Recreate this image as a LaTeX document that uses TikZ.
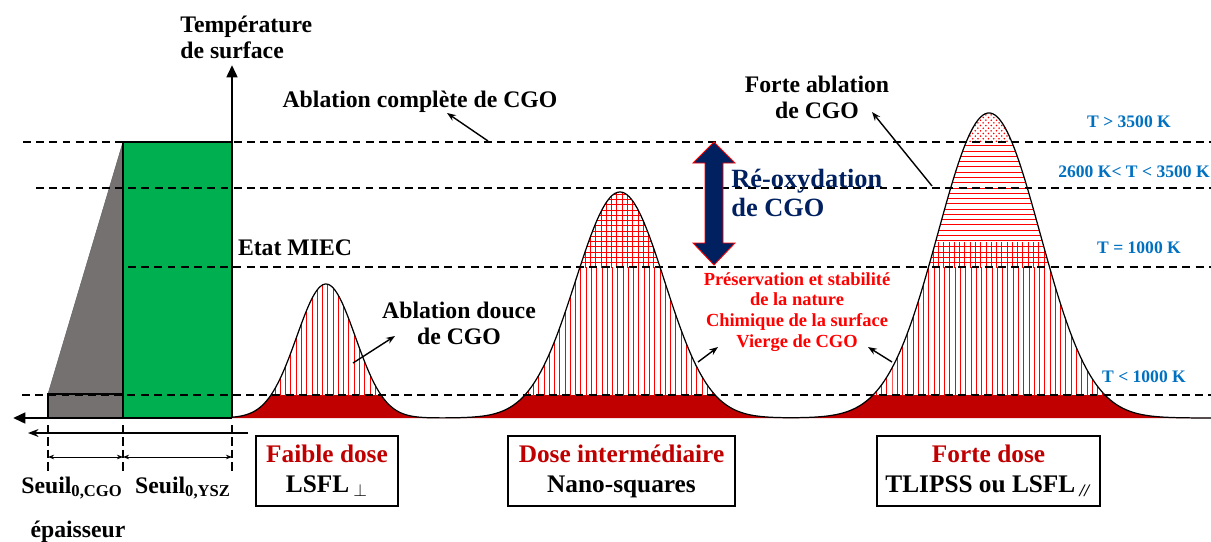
\documentclass[tikz,border=0pt]{standalone}
\usepackage{fontspec}
\setmainfont{Liberation Serif}
\usepackage{xcolor}
\usepackage{tikz}
\usetikzlibrary{arrows.meta,patterns}
\definecolor{cgogray}{RGB}{118,113,113}
\definecolor{yszgreen}{RGB}{0,176,80}
\definecolor{dosered}{RGB}{192,0,0}
\definecolor{reoxcol}{RGB}{0,32,96}
\definecolor{tempcol}{RGB}{0,112,192}
\tikzset{
  axis/.style={-{Triangle[length=7pt,width=6pt]},line width=1.6pt},
  guide/.style={dash pattern=on 4.5pt off 3pt,line width=1.1pt},
  pointer/.style={-{Stealth[length=5pt]},line width=0.8pt},
  dimarrow/.style={{Stealth[length=3.5pt]}-{Stealth[length=3.5pt]},line width=0.5pt},
  lbl/.style={font=\fontsize{13.5}{14.8}\selectfont\bfseries,align=center,inner sep=0pt},
  redlbl/.style={font=\fontsize{10.5}{11.9}\selectfont\bfseries,text=red,align=center,inner sep=0pt},
  templbl/.style={font=\fontsize{10}{12}\selectfont\bfseries,text=tempcol,inner sep=0pt},
  dosebox/.style={draw,line width=0.6pt,minimum height=14mm,align=center,
    font=\fontsize{14.4}{17}\selectfont\bfseries,inner sep=0pt},
  hatch/.style={pattern=#1,pattern color=red}
}

\begin{document}
\begin{tikzpicture}[x=0.2mm,y=-0.2mm,
  declare function={gs(\xa,\ca,\sa)=exp(-min(((\xa-\ca)/\sa)*((\xa-\ca)/\sa)/2,20));
    prof(\xa)=418-134*gs(\xa,326,29.3)-226*gs(\xa,620,44.5)-305*gs(\xa,989,51);}]
  \useasboundingbox (0,0) rectangle (1211,542);

  % CGO layer on YSZ
  \fill[cgogray] (48,418) -- (48,394) -- (123,142) -- (123,418) -- cycle;
  \draw[black!60,line width=0.3pt] (48,394) -- (123,142);
  \draw[line width=0.6pt] (48,394) rectangle (123,418);
  \fill[yszgreen] (123,142) rectangle (232,418);
  \draw[line width=1.2pt] (123,418) -- (123,142) -- (232,142);

  % temperature profiles
  \begin{scope}
    \clip plot[domain=232:1211,samples=400] (\x,{prof(\x)}) -- (1211,418) -- (232,418) -- cycle;
    \fill[dosered] (232,395) rectangle (1211,420);
    \fill[hatch=vertical lines] (232,267) rectangle (1211,395);
    \fill[hatch=grid] (520,90) rectangle (720,267);
    \fill[hatch=grid] (880,242) rectangle (1100,267);
    \fill[hatch=horizontal lines] (880,142) rectangle (1100,242);
    \fill[hatch=crosshatch dots] (880,90) rectangle (1100,142);
  \end{scope}

  % temperature levels
  \foreach \yy/\xs in {142/23,188/36,267/128,395/22}
    \draw[guide] (\xs,\yy) -- (1211,\yy);
  \draw[line width=0.7pt] plot[domain=232:1211,samples=400] (\x,{prof(\x)});

  % axes
  \coordinate (O) at (232,418);
  \coordinate (Ttop) at (232,65);
  \coordinate (Eleft) at (13,418);
  \draw[axis] (O) -- (Ttop);
  \draw[axis] (O) -- (Eleft);
  \coordinate (e0) at (248,433);
  \coordinate (e1) at (28,433);
  \draw[-{Stealth[length=6pt]},line width=0.9pt] (e0) -- (e1);
  \foreach \xx in {48,123,232}
    \draw[dash pattern=on 5pt off 2pt,line width=0.9pt] (\xx,425) -- (\xx,471);
  \coordinate (d0) at (48,457);
  \coordinate (d1) at (123,457);
  \coordinate (d2) at (232,457);
  \draw[dimarrow] (d0) -- (d1);
  \draw[dimarrow] (d1) -- (d2);

  % re-oxidation range
  \fill[reoxcol,draw=red,line width=0.5pt] (714,142) -- (735,163) -- (723,163)
    -- (723,243) -- (735,243) -- (714,265) -- (693,243) -- (705,243)
    -- (705,163) -- (693,163) -- cycle;

  % labels
  \node[lbl,align=left,anchor=west] (tempLbl) at (180,37) {Température\\de surface};
  \node[lbl] (complete) at (420,102) {Ablation complète de CGO};
  \node[lbl] (miec) at (295,248) {Etat MIEC};
  \node[lbl] (douce) at (459,323) {Ablation douce\\de CGO};
  \node[lbl] (forte) at (817,97) {Forte ablation\\de CGO};
  \node[lbl,align=left,anchor=west,text=reoxcol,font=\fontsize{15}{16.5}\selectfont\bfseries]
    (reox) at (731,193) {Ré-oxydation\\de CGO};
  \node[redlbl] (preserv) at (797,312)
    {Préservation et stabilité\\de la nature\\Chimique de la surface\\Vierge de CGO};
  \node[templbl] (tHigh) at (1129,122) {T > 3500 K};
  \node[templbl,anchor=west] (tMid) at (1058,172) {2600 K< T < 3500 K};
  \node[templbl] (tEq) at (1139,248) {T = 1000 K};
  \node[templbl] (tLow) at (1144,377) {T < 1000 K};
  \node[lbl] (seuilCGO) at (72,488) {Seuil\textsubscript{0,CGO}};
  \node[lbl] (seuilYSZ) at (183,488) {Seuil\textsubscript{0,YSZ}};
  \node[lbl] (epais) at (78,532) {épaisseur};

  % pointers
  \coordinate (cComplete) at (488,141);
  \coordinate (hComplete) at (447,113);
  \coordinate (cDouce) at (353,363);
  \coordinate (hDouce) at (395,336);
  \coordinate (cForte) at (932,186);
  \coordinate (hForte) at (872,112);
  \coordinate (cPresL) at (698,362);
  \coordinate (hPresL) at (718,347);
  \coordinate (cPresR) at (892,362);
  \coordinate (hPresR) at (868,347);
  \draw[pointer] (cComplete) -- (hComplete);
  \draw[pointer] (cDouce) -- (hDouce);
  \draw[pointer] (cForte) -- (hForte);
  \draw[pointer] (cPresL) -- (hPresL);
  \draw[pointer] (cPresR) -- (hPresR);

  % doses
  \node[dosebox,minimum width=28.4mm] (faible) at (327,471)
    {\textcolor{dosered}{Faible dose}\\LSFL\,$_\perp$};
  \node[dosebox,minimum width=45.4mm] (inter) at (621.5,471)
    {\textcolor{dosered}{Dose intermédiaire}\\Nano-squares};
  \node[dosebox,minimum width=44.6mm] (fortedose) at (988.5,471)
    {\textcolor{dosered}{Forte dose}\\TLIPSS ou LSFL\,\textsubscript{\textit{//}}};
\end{tikzpicture}
\end{document}
